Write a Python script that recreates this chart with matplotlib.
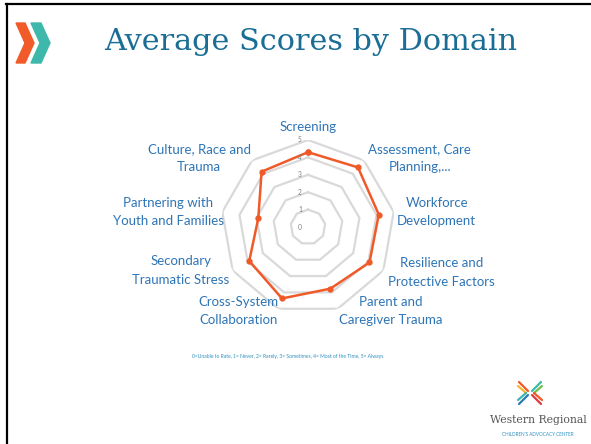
import numpy as np
import matplotlib
matplotlib.use("Agg")
import matplotlib.pyplot as plt
from matplotlib.patches import Polygon
from matplotlib.lines import Line2D

# data
domains = ["Screening", "Assessment, Care\nPlanning,...", "Workforce\nDevelopment",
           "Resilience and\nProtective Factors", "Parent and\nCaregiver Trauma",
           "Cross-System\nCollaboration", "Secondary\nTraumatic Stress",
           "Partnering with\nYouth and Families", "Culture, Race and\nTrauma"]
scores = [4.3, 4.47, 4.13, 4.08, 3.77, 4.37, 3.9, 2.9, 4.15]
ring_ticks = [0, 1, 2, 3, 4, 5]
# label offsets (pixels) from the outer vertex of each spoke
label_offsets = [(0, 13), (56, 2), (43, 0), (58, -2), (53, -2),
                 (-40, -2), (-52, 0), (-54, 0), (-53, 2)]

W, H = 591, 444
fig = plt.figure(figsize=(W / 100, H / 100), dpi=100)
fig.patch.set_facecolor("white")

def fx(x):
    return x / W

def fy(y):
    return 1 - y / H

# slide border (top + left)
fig.add_artist(Line2D([fx(6), fx(591)], [fy(4), fy(4)], color="black", lw=1.6))
fig.add_artist(Line2D([fx(7), fx(7)], [fy(4), fy(444)], color="black", lw=1.6))

# chevrons
orange_chev = [(16, 23), (25, 23), (34, 43), (25, 63), (16, 63), (25, 43)]
teal_chev = [(31, 23), (41, 23), (50, 43), (41, 63), (31, 63), (40, 43)]
fig.add_artist(Polygon([(fx(a), fy(b)) for a, b in orange_chev], closed=True,
                       color="#f15a29", transform=fig.transFigure))
fig.add_artist(Polygon([(fx(a), fy(b)) for a, b in teal_chev], closed=True,
                       color="#3db8aa", transform=fig.transFigure))

# title
fig.text(fx(311), fy(42), "Average Scores by Domain", ha="center", va="center",
         fontsize=21.8, family="DejaVu Serif", color="#1a6e96")

# radar axes
cx, cy, R = 308, 227, 87
ax = fig.add_axes([fx(cx - R), fy(cy + R), 2 * R / W, 2 * R / H], projection="polar")
ax.set_theta_zero_location("N")
ax.set_theta_direction(-1)
ax.set_ylim(0, 5)
ax.grid(False)
ax.spines["polar"].set_visible(False)
ax.set_xticks([])
ax.set_yticks([])
ax.patch.set_alpha(0)

n = len(domains)
theta = np.linspace(0, 2 * np.pi, n, endpoint=False)
theta_closed = np.append(theta, theta[0])

for r in ring_ticks[1:]:
    ax.plot(theta_closed, [r] * (n + 1), color="#d9d9d9", lw=1.6, zorder=1)

vals = np.append(scores, scores[0])
ax.plot(theta_closed, vals, color="#f05a28", lw=1.8, zorder=3,
        marker="o", markersize=3.5)

for r in ring_ticks:
    ax.annotate(str(r), xy=(0, r), xytext=(-8, 0), textcoords="offset pixels",
                ha="center", va="center", fontsize=4.8, color="#7f7f7f", family="Lato")

for t, lab, (dx, dy) in zip(theta, domains, label_offsets):
    ax.annotate(lab, xy=(t, 5), xytext=(dx, dy), textcoords="offset pixels",
                ha="center", va="center", fontsize=9.5, color="#2e75b6",
                family="Lato", linespacing=1.62, annotation_clip=False)

# footnote
fig.text(fx(288), fy(356),
         "0=Unable to Rate, 1= Never, 2= Rarely, 3= Sometimes, 4= Most of the Time, 5= Always",
         ha="center", va="center", fontsize=3.6, color="#2e8fc0", family="Lato")

# logo
lcx, lcy = 530, 393
strokes = [((-2, -2), (-11, -11), "#f05a28"), ((-4, 0), (-12, -7), "#f6b731"),
           ((2, -2), (11, -11), "#3db8aa"), ((4, 0), (12, -7), "#6cc24a"),
           ((-2, 2), (-11, 11), "#2a7ab8"), ((-4, 0), (-12, 7), "#3db8aa"),
           ((2, 2), (11, 11), "#e03a3e"), ((4, 0), (12, 7), "#f05a28")]
for (x0, y0), (x1, y1), c in strokes:
    fig.add_artist(Line2D([fx(lcx + x0), fx(lcx + x1)], [fy(lcy + y0), fy(lcy + y1)],
                          color=c, lw=1.6, solid_capstyle="round"))
fig.text(fx(538), fy(420), "Western Regional", ha="center", va="center",
         fontsize=7.8, family="DejaVu Serif", color="#555555")
fig.text(fx(538), fy(434), "CHILDREN'S ADVOCACY CENTER", ha="center", va="center",
         fontsize=3.3, family="Lato", color="#2e8fc0")

fig.savefig("out.png", dpi=100)
